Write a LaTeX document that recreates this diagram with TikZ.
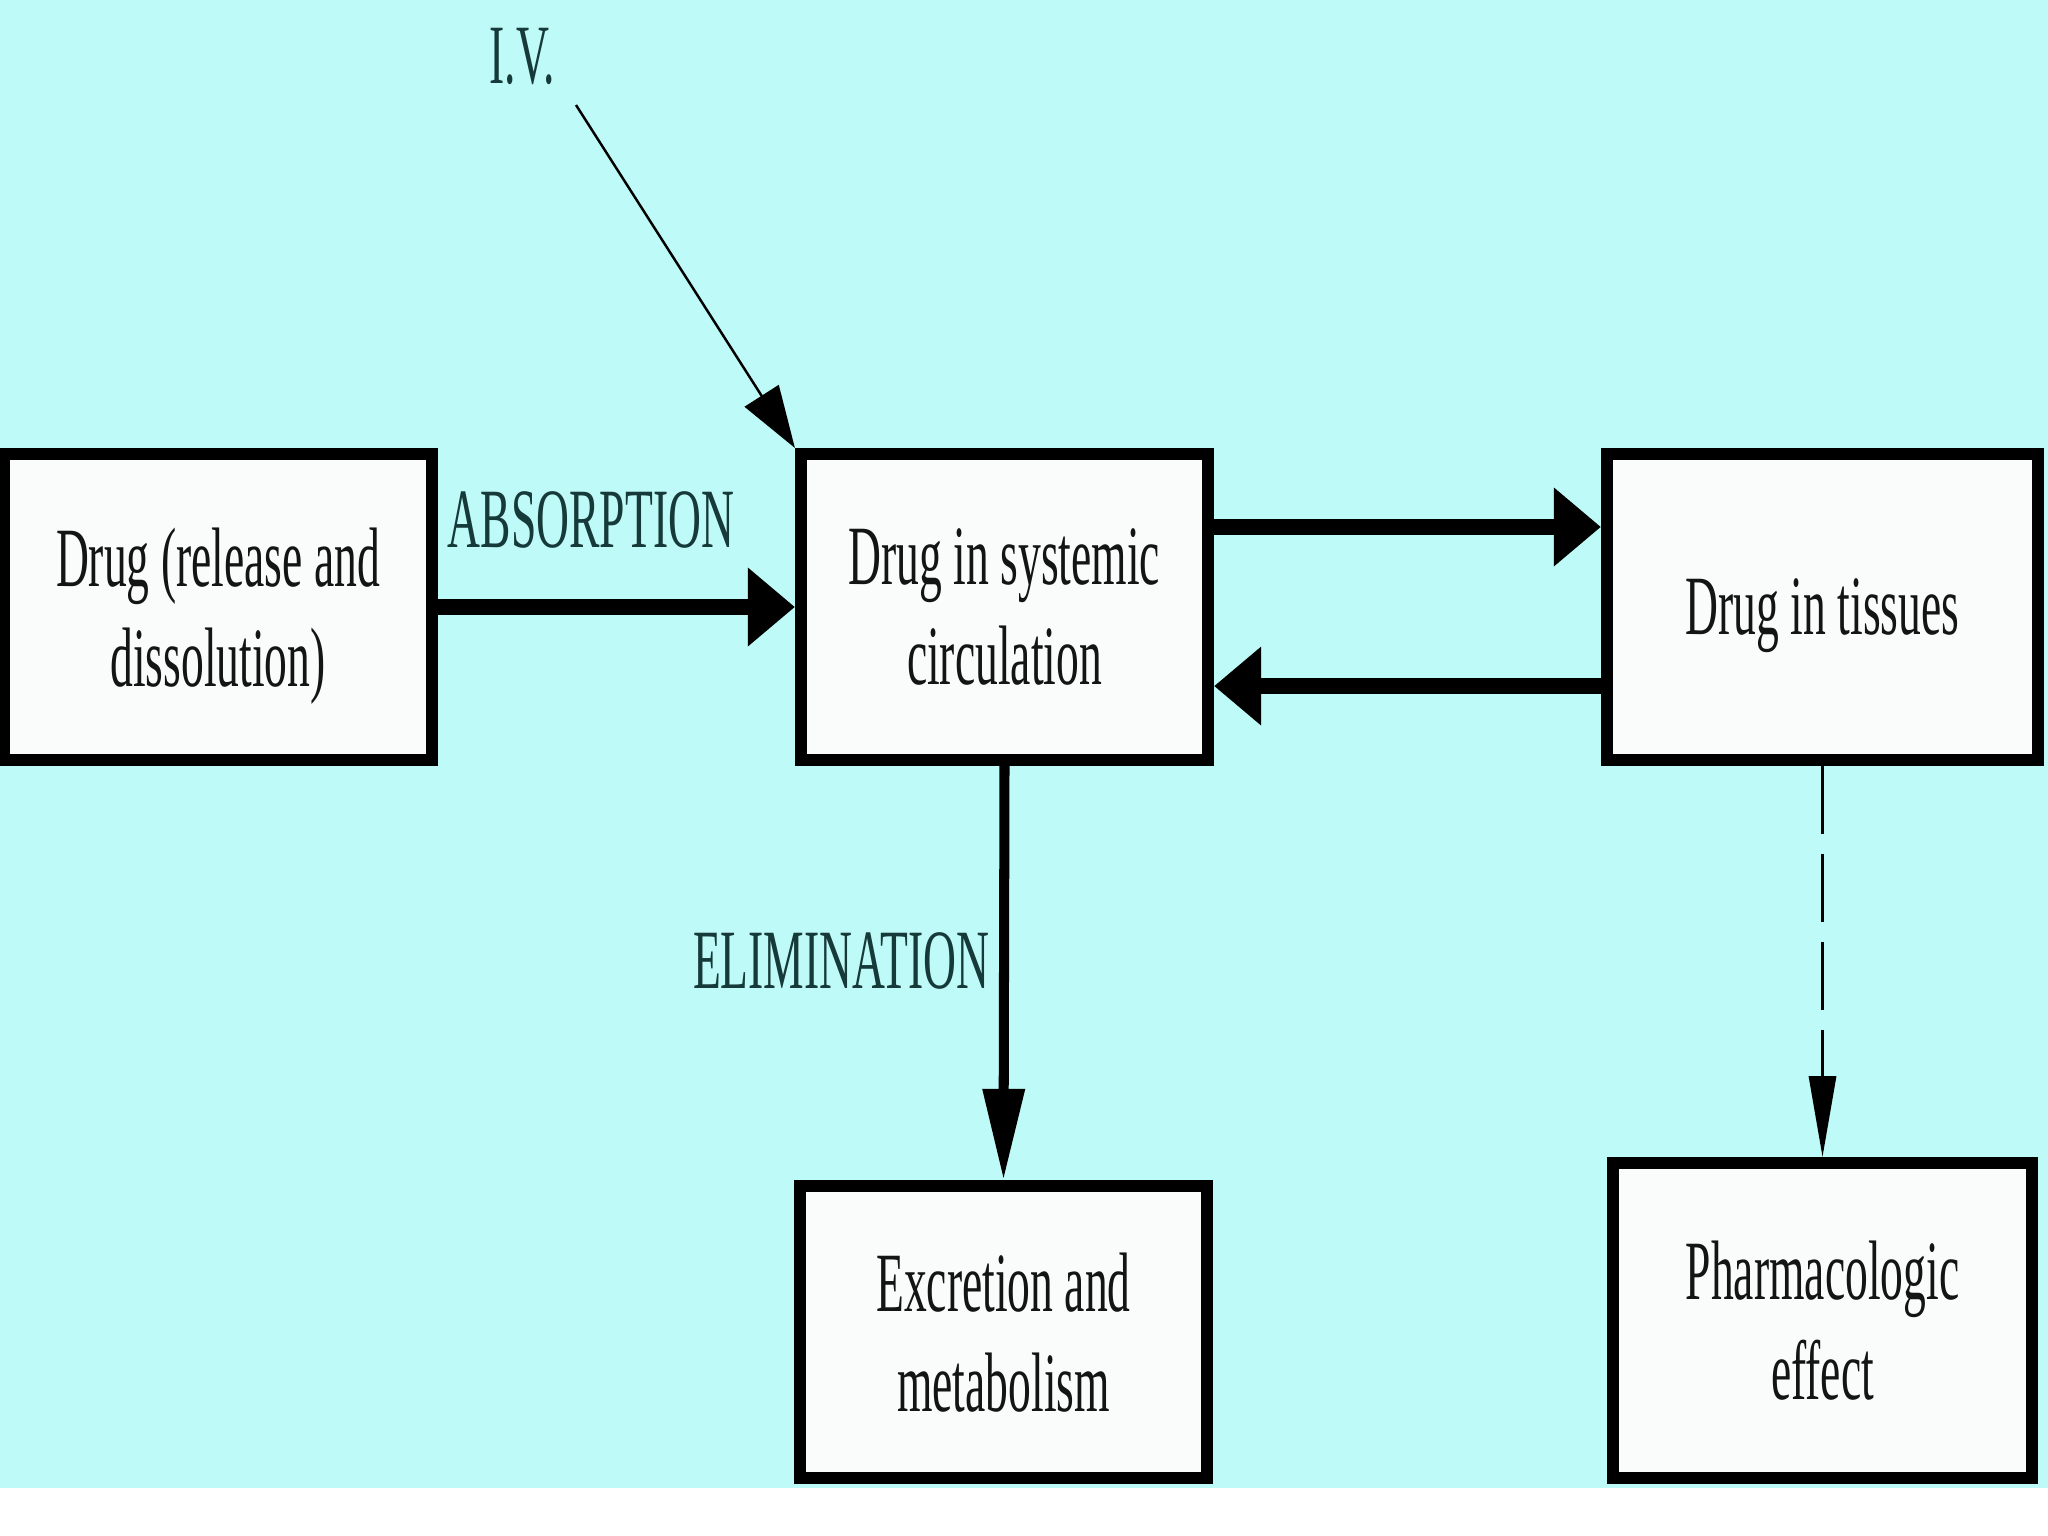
\documentclass[tikz,border=0pt]{standalone}
\usepackage{fontspec}
\newfontfamily\narrowserif[FakeStretch=0.54]{Liberation Serif}
\usetikzlibrary{arrows.meta}
\definecolor{bgcyan}{RGB}{190,250,247}
\definecolor{boxwhite}{RGB}{250,252,252}
\definecolor{labelink}{RGB}{22,58,58}
\tikzset{
  stage/.style={draw, line width=3.4pt, fill=boxwhite, align=center, inner sep=0pt,
    text=black!92, text depth=0pt, font=\narrowserif\fontsize{24}{28.45}\selectfont},
  tag/.style={text=labelink, inner sep=0pt, font=\narrowserif\fontsize{24}{28.45}\selectfont},
  flow/.style={line width=4.3pt, -{Triangle[length=13.4pt,width=21.6pt]}},
}

\begin{document}
\begin{tikzpicture}[x=0.01cm,y=-0.01cm]
        \useasboundingbox (0,0) rectangle (2048,1536);
        \fill[white] (0,0) rectangle (2048,1536);
        \fill[bgcyan] (0,0) rectangle (2048,1488);

        \node[stage, minimum width=4.28cm, minimum height=3.06cm] (release) at (218,607)
            {Drug (release and\\dissolution)};
        \node[stage, minimum width=4.07cm, minimum height=3.06cm] (circ) at (1004.5,607)
            {Drug in systemic\\circulation};
        \node[stage, minimum width=4.31cm, minimum height=3.06cm] (tissue) at (1822.5,607)
            {Drug in tissues};
        \node[stage, minimum width=4.07cm, minimum height=2.92cm] (excr) at (1003.5,1332)
            {Excretion and\\metabolism};
        \node[stage, minimum width=4.19cm, minimum height=3.15cm] (pharm) at (1822.5,1320.5)
            {Pharmacologic\\effect};

        \node[tag, anchor=base] (iv) at (522,83) {I.V.};
        \node[tag, anchor=base] (absorb) at (591,547) {ABSORPTION};
        \node[tag, anchor=base east] (elim) at (990,988) {ELIMINATION};
        \coordinate (ivstart) at (576,105);

        \draw[flow] (release.east) -- (circ.west);
        \draw[flow] ([yshift=0.8cm]circ.east) -- ([yshift=0.8cm]tissue.west);
        \draw[flow] ([yshift=-0.79cm]tissue.west) -- ([yshift=-0.79cm]circ.east);
        \draw[line width=2.85pt, -{Triangle[length=25.9pt,width=11.4pt]}] (circ.south) -- (excr.north);
        \draw[line width=0.85pt, dash pattern=on 19.3pt off 5.7pt,
            -{Triangle[length=23pt,width=7.7pt]}] (tissue.south) -- (pharm.north);
        \draw[line width=0.7pt, -{Triangle[length=17.6pt,width=11.4pt]}] (ivstart) -- (circ.north west);
\end{tikzpicture}
\end{document}
